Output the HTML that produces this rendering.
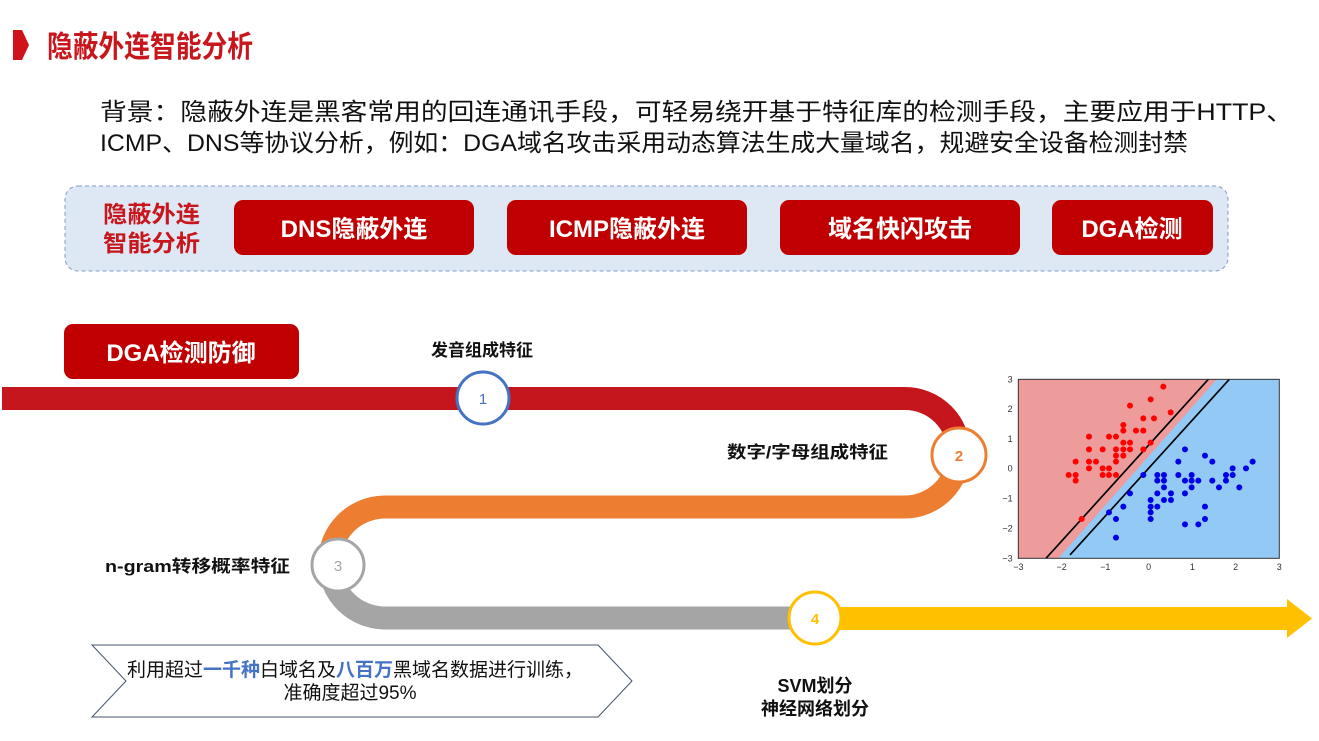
<!DOCTYPE html>
<html><head><meta charset="utf-8"><style>
html,body{margin:0;padding:0;background:#fff;}
svg{display:block;}
text{font-family:"Liberation Sans","Noto Sans CJK SC",sans-serif;}
</style></head><body>
<svg width="1319" height="741" viewBox="0 0 1319 741" xmlns="http://www.w3.org/2000/svg">
<polygon points="13,30 22,30 29,45 22,60 13,60" fill="#d0121b"/>
<text x="47" y="57" font-size="30" font-weight="bold" fill="#c8161d" textLength="206" lengthAdjust="spacingAndGlyphs">隐蔽外连智能分析</text>
<text x="100" y="120" font-size="24" fill="#111" textLength="1193" lengthAdjust="spacingAndGlyphs">背景：隐蔽外连是黑客常用的回连通讯手段，可轻易绕开基于特征库的检测手段，主要应用于HTTP、</text>
<text x="100" y="151" font-size="24" fill="#111" textLength="1088" lengthAdjust="spacingAndGlyphs">ICMP、DNS等协议分析，例如：DGA域名攻击采用动态算法生成大量域名，规避安全设备检测封禁</text>
<rect x="65" y="186" width="1163" height="85" rx="13" fill="#dee8f4" stroke="#7f9cc7" stroke-width="1" stroke-dasharray="4,3"/>
<text x="103" y="222" font-size="23" font-weight="bold" fill="#c8161d" textLength="97" lengthAdjust="spacingAndGlyphs">隐蔽外连</text>
<text x="103" y="251" font-size="23" font-weight="bold" fill="#c8161d" textLength="97" lengthAdjust="spacingAndGlyphs">智能分析</text>
<g fill="#c00000">
<rect x="234" y="200" width="240" height="55" rx="9"/>
<rect x="507" y="200" width="240" height="55" rx="9"/>
<rect x="780" y="200" width="240" height="55" rx="9"/>
<rect x="1052" y="200" width="161" height="55" rx="9"/>
<rect x="64" y="324" width="235" height="55" rx="9"/>
</g>
<g fill="#fff" font-size="24" font-weight="bold" text-anchor="middle">
<text x="354" y="237">DNS隐蔽外连</text>
<text x="627" y="237">ICMP隐蔽外连</text>
<text x="900" y="237">域名快闪攻击</text>
<text x="1132" y="237">DGA检测</text>
<text x="181" y="361">DGA检测防御</text>
</g>
<path d="M2,398.5 H905 A54,54 0 0 1 959,452.5" fill="none" stroke="#c5161e" stroke-width="23"/>
<path d="M959,452.5 A54.5,54.5 0 0 1 904.5,507 H385" fill="none" stroke="#ed7d31" stroke-width="23"/>
<path d="M385,507 A55.5,55.5 0 0 0 329.5,562.5" fill="none" stroke="#ed7d31" stroke-width="23"/>
<path d="M329.5,562.5 A55.5,55.5 0 0 0 385,618 H815" fill="none" stroke="#a5a5a5" stroke-width="23"/>
<path d="M815,618.5 H1290" fill="none" stroke="#ffc000" stroke-width="23"/>
<polygon points="1287,599 1312,618.5 1287,638" fill="#ffc000"/>
<circle cx="483" cy="398" r="26" fill="#fff" stroke="#4472c4" stroke-width="3"/>
<text x="483" y="404" font-size="15" fill="#4472c4" text-anchor="middle">1</text>
<circle cx="959" cy="455" r="27" fill="#fff" stroke="#ed7d31" stroke-width="3"/>
<text x="959" y="461" font-size="15" font-weight="bold" fill="#ed7d31" text-anchor="middle">2</text>
<circle cx="338" cy="565" r="26" fill="#fff" stroke="#a5a5a5" stroke-width="3"/>
<text x="338" y="571" font-size="15" fill="#a5a5a5" text-anchor="middle">3</text>
<circle cx="815" cy="618" r="26" fill="#fff" stroke="#ffc000" stroke-width="3"/>
<text x="815" y="624" font-size="15" font-weight="bold" fill="#ffc000" text-anchor="middle">4</text>
<g font-size="17" font-weight="bold" fill="#111">
<text x="482" y="356" text-anchor="middle">发音组成特征</text>
<text x="727" y="458" textLength="161" lengthAdjust="spacingAndGlyphs">数字/字母组成特征</text>
<text x="105" y="572" textLength="185" lengthAdjust="spacingAndGlyphs">n-gram转移概率特征</text>
<text x="815" y="692" text-anchor="middle" font-size="18">SVM划分</text>
<text x="815" y="715" text-anchor="middle" font-size="18">神经网络划分</text>
</g>
<polygon points="92,645 598,645 632,681 598,717 92,717 126,681" fill="#fff" stroke="#44546a" stroke-width="1"/>
<text x="355" y="676" font-size="19" fill="#111" text-anchor="middle">利用超过<tspan fill="#4472c4" font-weight="bold">一千种</tspan>白域名及<tspan fill="#4472c4" font-weight="bold">八百万</tspan>黑域名数据进行训练，</text>
<text x="350" y="699" font-size="19" fill="#111" text-anchor="middle">准确度超过95%</text>
<g transform="translate(990,370) scale(0.3333)">
<rect x="85" y="28" width="783" height="537" fill="#92c9f5"/>
<polygon points="85,28 680,28 205,565 85,565" fill="#ee9b9b"/>
<line x1="168" y1="565" x2="655" y2="28" stroke="#000" stroke-width="5"/>
<line x1="240" y1="555" x2="718" y2="28" stroke="#000" stroke-width="5"/>
<rect x="85" y="28" width="783" height="537" fill="none" stroke="#333" stroke-width="3"/>
<g fill="#f00">
<circle cx="520" cy="50" r="9"/><circle cx="482" cy="88" r="9"/><circle cx="542" cy="127" r="9"/><circle cx="420" cy="107" r="9"/><circle cx="460" cy="145" r="9"/><circle cx="400" cy="165" r="9"/><circle cx="400" cy="182" r="9"/><circle cx="438" cy="182" r="9"/><circle cx="460" cy="182" r="9"/><circle cx="297" cy="200" r="9"/><circle cx="357" cy="200" r="9"/><circle cx="378" cy="200" r="9"/><circle cx="400" cy="218" r="9"/><circle cx="420" cy="218" r="9"/><circle cx="482" cy="218" r="9"/><circle cx="297" cy="238" r="9"/><circle cx="338" cy="238" r="9"/><circle cx="378" cy="238" r="9"/><circle cx="400" cy="238" r="9"/><circle cx="420" cy="238" r="9"/><circle cx="460" cy="238" r="9"/><circle cx="257" cy="275" r="9"/><circle cx="297" cy="275" r="9"/><circle cx="318" cy="275" r="9"/><circle cx="378" cy="257" r="9"/><circle cx="378" cy="275" r="9"/><circle cx="400" cy="257" r="9"/><circle cx="297" cy="295" r="9"/><circle cx="338" cy="295" r="9"/><circle cx="357" cy="295" r="9"/><circle cx="236" cy="315" r="9"/><circle cx="257" cy="315" r="9"/><circle cx="338" cy="315" r="9"/><circle cx="357" cy="315" r="9"/><circle cx="378" cy="315" r="9"/><circle cx="257" cy="332" r="9"/><circle cx="275" cy="447" r="9"/><circle cx="492" cy="145" r="9"/>
</g>
<g fill="#0000e6">
<circle cx="585" cy="238" r="9"/><circle cx="645" cy="257" r="9"/><circle cx="565" cy="275" r="9"/><circle cx="667" cy="275" r="9"/><circle cx="788" cy="275" r="9"/><circle cx="728" cy="295" r="9"/><circle cx="768" cy="295" r="9"/><circle cx="460" cy="315" r="9"/><circle cx="502" cy="315" r="9"/><circle cx="522" cy="315" r="9"/><circle cx="565" cy="315" r="9"/><circle cx="605" cy="315" r="9"/><circle cx="708" cy="315" r="9"/><circle cx="728" cy="315" r="9"/><circle cx="502" cy="332" r="9"/><circle cx="522" cy="332" r="9"/><circle cx="585" cy="332" r="9"/><circle cx="605" cy="332" r="9"/><circle cx="625" cy="332" r="9"/><circle cx="667" cy="332" r="9"/><circle cx="708" cy="332" r="9"/><circle cx="522" cy="352" r="9"/><circle cx="605" cy="352" r="9"/><circle cx="687" cy="352" r="9"/><circle cx="748" cy="352" r="9"/><circle cx="420" cy="370" r="9"/><circle cx="502" cy="370" r="9"/><circle cx="543" cy="370" r="9"/><circle cx="585" cy="370" r="9"/><circle cx="482" cy="390" r="9"/><circle cx="522" cy="390" r="9"/><circle cx="543" cy="390" r="9"/><circle cx="400" cy="410" r="9"/><circle cx="482" cy="410" r="9"/><circle cx="502" cy="410" r="9"/><circle cx="645" cy="410" r="9"/><circle cx="357" cy="427" r="9"/><circle cx="482" cy="427" r="9"/><circle cx="378" cy="447" r="9"/><circle cx="482" cy="447" r="9"/><circle cx="645" cy="447" r="9"/><circle cx="585" cy="463" r="9"/><circle cx="625" cy="463" r="9"/><circle cx="378" cy="503" r="9"/>
</g>
<g font-size="27" fill="#333" text-anchor="end">
<text x="68" y="37">3</text><text x="68" y="126">2</text><text x="68" y="216">1</text><text x="68" y="305">0</text><text x="68" y="395">−1</text><text x="68" y="484">−2</text><text x="68" y="574">−3</text>
</g>
<g font-size="27" fill="#333" text-anchor="middle">
<text x="85" y="600">−3</text><text x="215" y="600">−2</text><text x="346" y="600">−1</text><text x="476" y="600">0</text><text x="607" y="600">1</text><text x="737" y="600">2</text><text x="868" y="600">3</text>
</g>
</g>
</svg>
</body></html>
